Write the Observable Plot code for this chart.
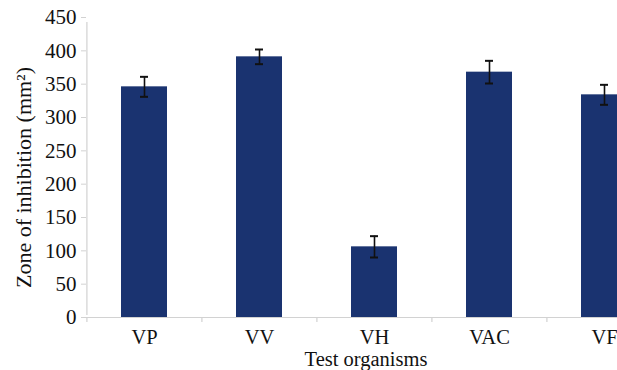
<!DOCTYPE html>
<html><head><meta charset="utf-8">
<script src="https://cdn.jsdelivr.net/npm/d3@7"></script>
<script src="https://cdn.jsdelivr.net/npm/@observablehq/plot@0.6"></script>
<style>
html,body{margin:0;padding:0;background:#fff;overflow:hidden}
svg{display:block}
#chart svg, #chart svg text{font-family:"Liberation Serif","DejaVu Serif",serif !important}
</style>
</head><body><div id="chart"></div>
<script>
const organisms = ["VP", "VV", "VH", "VAC", "VF"];
const zoneValues = [346, 391, 106, 368, 334];
const zoneErrors = [15, 11, 16, 17, 15];
const yTicks = [0, 50, 100, 150, 200, 250, 300, 350, 400, 450];
const yTitle = "Zone of inhibition (mm²)";
const xTitle = "Test organisms";

const data = organisms.map((o, i) => ({organism: o, value: zoneValues[i], err: zoneErrors[i]}));
const axisGray = "#d2d2d2";
const ink = "#111";

const chart = Plot.plot({
  width: 617, height: 370,
  marginLeft: 86, marginRight: 0, marginTop: 17, marginBottom: 53,
  style: {fontSize: "21px", color: ink, background: "#fff"},
  x: {domain: organisms, range: [86, 662], paddingInner: 0.6, paddingOuter: 0.3},
  y: {domain: [0, 450]},
  marks: [
    Plot.barY(data, {x: "organism", y: "value", fill: "#1a3370"}),
    Plot.ruleY([0], {stroke: axisGray, strokeWidth: 1.2}),
    Plot.ruleX(organisms.slice(0, 1), {x: d => d, y1: 0, y2: 450, dx: -57.6, insetTop: -2, insetBottom: -5, stroke: axisGray, strokeWidth: 1.2}),
    Plot.ruleX(organisms, {x: d => d, y1: 0, y2: 0, dx: -57.6, insetBottom: -5, stroke: axisGray, strokeWidth: 1.2}),
    Plot.ruleX(data, {x: "organism", y1: d => d.value - d.err, y2: d => d.value + d.err, stroke: ink, strokeWidth: 1.6}),
    Plot.tickY(data, {x: "organism", y: d => d.value + d.err, insetLeft: 19, insetRight: 19, stroke: ink, strokeWidth: 2}),
    Plot.tickY(data, {x: "organism", y: d => d.value - d.err, insetLeft: 19, insetRight: 19, stroke: ink, strokeWidth: 2}),
    Plot.axisY({ticks: yTicks, tickSize: 5, tickPadding: 5, stroke: axisGray, fill: ink, label: null, fontSize: 21, tickFormat: d => String(d)}),
    Plot.axisX({tickSize: 0, tickPadding: 12, fill: ink, label: null, fontSize: 20.5}),
    Plot.text([yTitle], {frameAnchor: "left", rotate: -90, dx: -63, dy: 10, fontSize: 22, textAnchor: "middle", lineAnchor: "middle", fill: ink}),
    Plot.text([xTitle], {frameAnchor: "bottom", lineAnchor: "top", dx: 14, dy: 34, fontSize: 20.5, textAnchor: "middle", fill: ink})
  ]
});
document.getElementById("chart").append(chart);
</script>
</body></html>
